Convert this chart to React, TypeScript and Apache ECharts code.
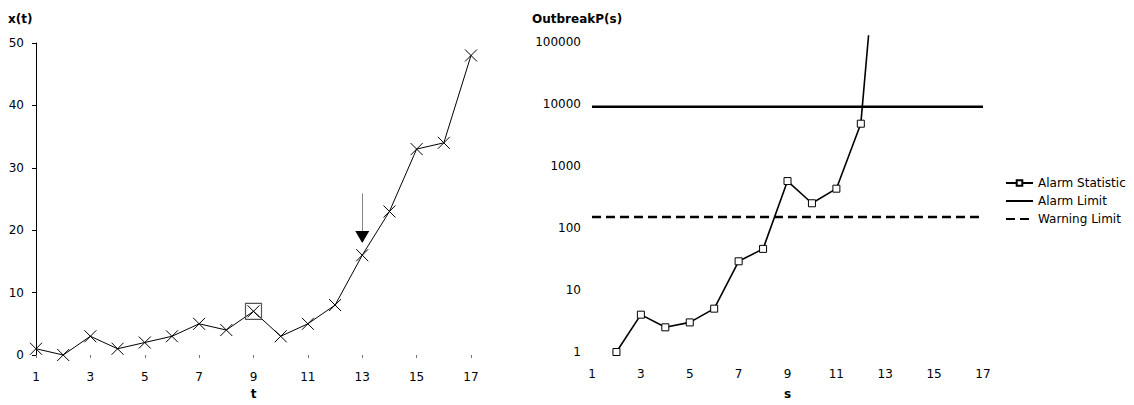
import React, { useEffect, useRef } from "react";
import * as echarts from "echarts";

const T_CATEGORIES = ["1", "2", "3", "4", "5", "6", "7", "8", "9", "10", "11", "12", "13", "14", "15", "16", "17"];
const X_VALUES = [1, 0, 3, 1, 2, 3, 5, 4, 7, 3, 5, 8, 16, 23, 33, 34, 48];

const S_CATEGORIES = ["1", "2", "3", "4", "5", "6", "7", "8", "9", "10", "11", "12", "13", "14", "15", "16", "17"];
const ALARM_STATISTIC: (number | string)[] = ["-", 1, 4, 2.5, 3, 5, 29, 46, 570, 250, 430, 4800, 150000000, "-", "-", "-", "-"];
const ALARM_LIMIT = 9000;
const WARNING_LIMIT = 150;

const FONT = "DejaVu Sans, Verdana, sans-serif";
const CROSS = "path://M0,0L10,10M10,0L0,10";

export default function App() {
  const ref = useRef<HTMLDivElement>(null);
  useEffect(() => {
    document.body.style.margin = "0";
    const chart = echarts.init(ref.current!, null, { renderer: "svg" });
    const isPow10 = (v: number) => {
      const l = Math.log10(v);
      return Math.abs(l - Math.round(l)) < 1e-6;
    };
    const hiddenSymbol = { color: "rgba(0,0,0,0)", borderWidth: 0 };
    chart.setOption({
      animation: false,
      textStyle: { fontFamily: FONT },
      grid: [
        { left: 36, top: 43, width: 435, height: 315 },
        { left: 592, top: 36, width: 391, height: 321 },
      ],
      graphic: [
        { type: "text", left: 8, top: 13, style: { text: "x(t)", font: `bold 12px ${FONT}`, fill: "#000" } },
        { type: "text", left: 532, top: 13, style: { text: "OutbreakP(s)", font: `bold 12px ${FONT}`, fill: "#000" } },
      ],
      legend: {
        orient: "vertical",
        left: 1005,
        top: 177,
        padding: 0,
        itemWidth: 27,
        itemHeight: 7,
        itemGap: 6,
        selectedMode: false,
        textStyle: { fontSize: 12, color: "#000", fontFamily: FONT },
        data: [
          { name: "Alarm Statistic" },
          { name: "Alarm Limit", itemStyle: hiddenSymbol },
          { name: "Warning Limit", itemStyle: hiddenSymbol },
        ],
      },
      xAxis: [
        {
          type: "category",
          gridIndex: 0,
          data: T_CATEGORIES,
          boundaryGap: false,
          axisLine: { show: false },
          axisTick: { show: true, interval: 1, length: 3, lineStyle: { color: "#777" } },
          axisLabel: { interval: 1, margin: 16, color: "#000", fontSize: 12 },
          name: "t",
          nameLocation: "middle",
          nameGap: 33,
          nameTextStyle: { fontWeight: "bold", fontSize: 12, color: "#000" },
        },
        {
          type: "category",
          gridIndex: 1,
          data: S_CATEGORIES,
          boundaryGap: false,
          axisLine: { show: false },
          axisTick: { show: false },
          axisLabel: { interval: 1, margin: 16, color: "#000", fontSize: 12 },
          name: "s",
          nameLocation: "middle",
          nameGap: 36,
          nameTextStyle: { fontWeight: "bold", fontSize: 12, color: "#000" },
        },
      ],
      yAxis: [
        {
          type: "value",
          gridIndex: 0,
          min: 0,
          max: 50,
          interval: 10,
          axisLine: { show: true, lineStyle: { color: "#000", width: 1 } },
          axisTick: { show: true, length: 4, lineStyle: { color: "#000" } },
          splitLine: { show: false },
          axisLabel: { margin: 12, color: "#000", fontSize: 12 },
        },
        {
          type: "log",
          gridIndex: 1,
          logBase: 10,
          min: 1,
          max: 124500,
          axisLine: { show: false },
          axisTick: { show: false },
          splitLine: { show: false },
          axisLabel: {
            margin: 11,
            color: "#000",
            fontSize: 12,
            formatter: (v: number) => (isPow10(v) ? String(Math.round(v)) : ""),
          },
        },
      ],
      series: [
        {
          type: "line",
          name: "x(t)",
          xAxisIndex: 0,
          yAxisIndex: 0,
          data: X_VALUES,
          symbol: CROSS,
          symbolSize: 12,
          showAllSymbol: true,
          clip: false,
          lineStyle: { color: "#000", width: 1 },
          itemStyle: { color: "#000", borderColor: "#000", borderWidth: 1 },
          emphasis: { disabled: true },
          markPoint: {
            silent: true,
            label: { show: false },
            data: [
              {
                coord: ["9", 7],
                symbol: "rect",
                symbolSize: 16,
                itemStyle: { color: "rgba(0,0,0,0)", borderColor: "#555", borderWidth: 1.2 },
              },
              {
                coord: ["13", 18.9],
                symbol: "triangle",
                symbolSize: [14, 12],
                symbolRotate: 180,
                itemStyle: { color: "#000" },
              },
            ],
          },
          markLine: {
            silent: true,
            symbol: ["none", "none"],
            label: { show: false },
            lineStyle: { color: "#888", width: 1, type: "solid" },
            data: [[{ coord: ["13", 25.9] }, { coord: ["13", 18.9] }]],
          },
        },
        {
          type: "line",
          name: "Alarm Statistic",
          xAxisIndex: 1,
          yAxisIndex: 1,
          data: ALARM_STATISTIC,
          symbol: "rect",
          symbolSize: 7,
          showAllSymbol: true,
          lineStyle: { color: "#000", width: 1.6 },
          itemStyle: { color: "#fff", borderColor: "#000", borderWidth: 1 },
          emphasis: { disabled: true },
        },
        {
          type: "line",
          name: "Alarm Limit",
          xAxisIndex: 1,
          yAxisIndex: 1,
          data: [["1", ALARM_LIMIT], ["17", ALARM_LIMIT]],
          symbol: "none",
          lineStyle: { color: "#000", width: 2.5 },
          itemStyle: { color: "#000" },
          emphasis: { disabled: true },
        },
        {
          type: "line",
          name: "Warning Limit",
          xAxisIndex: 1,
          yAxisIndex: 1,
          data: [["1", WARNING_LIMIT], ["17", WARNING_LIMIT]],
          symbol: "none",
          lineStyle: { color: "#000", width: 2.5, type: [9, 5] },
          itemStyle: { color: "#000" },
          emphasis: { disabled: true },
        },
      ],
    });
    return () => chart.dispose();
  }, []);
  return <div ref={ref} style={{ width: 1134, height: 405 }} />;
}
